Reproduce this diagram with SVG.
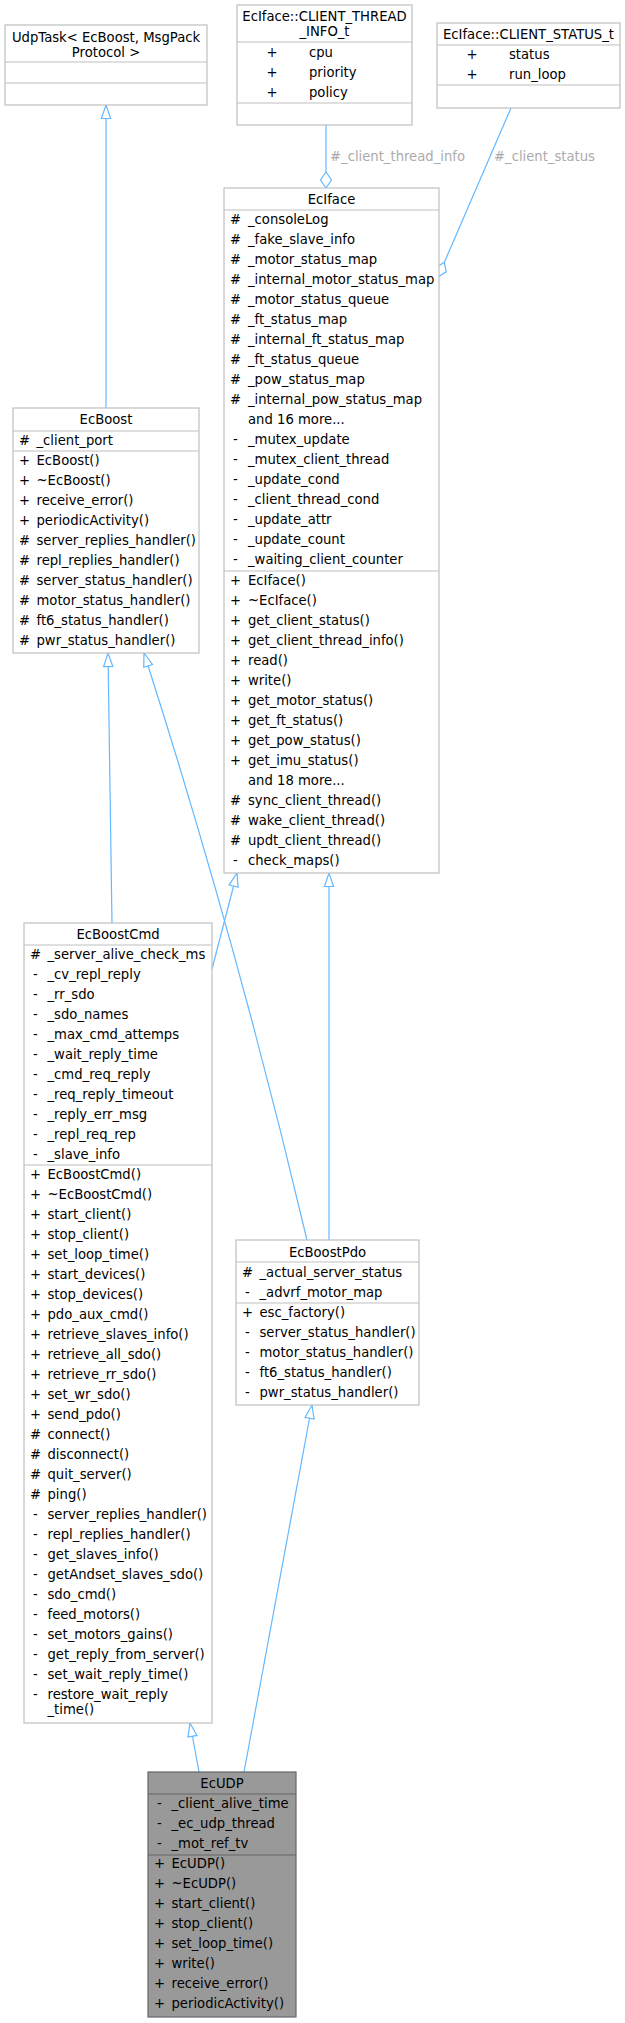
<svg xmlns="http://www.w3.org/2000/svg" width="625" height="2023" viewBox="0 0 625 2023">
<style>
.box{fill:#ffffff;stroke:#bfbfbf;stroke-width:1.2}
.sep{stroke:#bfbfbf;stroke-width:1.2}
.boxd{fill:#999999;stroke:#666666;stroke-width:1.2}
.sepd{stroke:#666666;stroke-width:1.2}
text{font-family:"DejaVu Sans","Liberation Sans",sans-serif;font-size:13.2px;fill:#000000}
.c{text-anchor:middle}
.edge{fill:none;stroke:#63b8ff;stroke-width:1.2}
text.lbl{fill:#ababab}
</style>
<defs>
<marker id="inh" markerUnits="userSpaceOnUse" viewBox="0 0 14 10" refX="14" refY="5" markerWidth="14" markerHeight="10" orient="auto" overflow="visible">
<path d="M0.5,0.4 L14,5 L0.5,9.6 Z" fill="#ffffff" stroke="#63b8ff" stroke-width="1.2"/>
</marker>
<marker id="agg" markerUnits="userSpaceOnUse" viewBox="0 0 16 11" refX="16" refY="5.5" markerWidth="16" markerHeight="11" orient="auto" overflow="visible">
<path d="M0,5.5 L8,0 L16,5.5 L8,11 Z" fill="#ffffff" stroke="#63b8ff" stroke-width="1.2"/>
</marker>
</defs>
<rect width="625" height="2023" fill="#ffffff"/>

<g id="connectors">
<path class="edge" d="M106,408 L106,105" marker-end="url(#inh)"/>
<path class="edge" d="M112,923 L108,653" marker-end="url(#inh)"/>
<path class="edge" d="M307,1240 Q237,943 144,653" marker-end="url(#inh)"/>
<path class="edge" d="M212,969 L237,873" marker-end="url(#inh)"/>
<path class="edge" d="M329,1240 L329,873" marker-end="url(#inh)"/>
<path class="edge" d="M199,1772 L190,1723" marker-end="url(#inh)"/>
<path class="edge" d="M244,1772 L312,1405" marker-end="url(#inh)"/>
<path class="edge" d="M326,125 L326,188" marker-end="url(#agg)"/>
<path class="edge" d="M511,108 L438,277" marker-end="url(#agg)"/>
<text class="lbl" x="330" y="160.5">#_client_thread_info</text>
<text class="lbl" x="494" y="160.5">#_client_status</text>
</g>

<g id="UdpTask">
<rect class="box" x="5" y="25" width="202" height="80"/>
<line class="sep" x1="5" y1="62" x2="207" y2="62"/>
<line class="sep" x1="5" y1="83" x2="207" y2="83"/>
<text class="c" x="106" y="41.5">UdpTask&lt; EcBoost, MsgPack</text>
<text class="c" x="106" y="56.5">Protocol &gt;</text>
</g>

<g id="CLIENT_THREAD_INFO_t">
<rect class="box" x="237" y="5" width="175" height="120"/>
<line class="sep" x1="237" y1="42" x2="412" y2="42"/>
<line class="sep" x1="237" y1="103" x2="412" y2="103"/>
<text class="c" x="324.5" y="21">EcIface::CLIENT_THREAD</text>
<text class="c" x="324.5" y="36">_INFO_t</text>
<text class="c" x="272" y="56.5">+</text><text x="309" y="56.5">cpu</text>
<text class="c" x="272" y="76.5">+</text><text x="309" y="76.5">priority</text>
<text class="c" x="272" y="96.5">+</text><text x="309" y="96.5">policy</text>
</g>

<g id="CLIENT_STATUS_t">
<rect class="box" x="437" y="23" width="183" height="85"/>
<line class="sep" x1="437" y1="45" x2="620" y2="45"/>
<line class="sep" x1="437" y1="85" x2="620" y2="85"/>
<text class="c" x="528.5" y="38.5">EcIface::CLIENT_STATUS_t</text>
<text class="c" x="472" y="58.5">+</text><text x="509" y="58.5">status</text>
<text class="c" x="472" y="78.5">+</text><text x="509" y="78.5">run_loop</text>
</g>

<g id="EcIface">
<rect class="box" x="224" y="188" width="215" height="685"/>
<line class="sep" x1="224" y1="210" x2="439" y2="210"/>
<line class="sep" x1="224" y1="571" x2="439" y2="571"/>
<text class="c" x="331.5" y="203.5">EcIface</text>
<text class="c" x="235.5" y="224">#</text><text x="248" y="224">_consoleLog</text>
<text class="c" x="235.5" y="244">#</text><text x="248" y="244">_fake_slave_info</text>
<text class="c" x="235.5" y="264">#</text><text x="248" y="264">_motor_status_map</text>
<text class="c" x="235.5" y="284">#</text><text x="248" y="284">_internal_motor_status_map</text>
<text class="c" x="235.5" y="304">#</text><text x="248" y="304">_motor_status_queue</text>
<text class="c" x="235.5" y="324">#</text><text x="248" y="324">_ft_status_map</text>
<text class="c" x="235.5" y="344">#</text><text x="248" y="344">_internal_ft_status_map</text>
<text class="c" x="235.5" y="364">#</text><text x="248" y="364">_ft_status_queue</text>
<text class="c" x="235.5" y="384">#</text><text x="248" y="384">_pow_status_map</text>
<text class="c" x="235.5" y="404">#</text><text x="248" y="404">_internal_pow_status_map</text>
<text x="248" y="424">and 16 more...</text>
<text class="c" x="235.5" y="444">-</text><text x="248" y="444">_mutex_update</text>
<text class="c" x="235.5" y="464">-</text><text x="248" y="464">_mutex_client_thread</text>
<text class="c" x="235.5" y="484">-</text><text x="248" y="484">_update_cond</text>
<text class="c" x="235.5" y="504">-</text><text x="248" y="504">_client_thread_cond</text>
<text class="c" x="235.5" y="524">-</text><text x="248" y="524">_update_attr</text>
<text class="c" x="235.5" y="544">-</text><text x="248" y="544">_update_count</text>
<text class="c" x="235.5" y="564">-</text><text x="248" y="564">_waiting_client_counter</text>
<text class="c" x="235.5" y="584.5">+</text><text x="248" y="584.5">EcIface()</text>
<text class="c" x="235.5" y="604.5">+</text><text x="248" y="604.5">~EcIface()</text>
<text class="c" x="235.5" y="624.5">+</text><text x="248" y="624.5">get_client_status()</text>
<text class="c" x="235.5" y="644.5">+</text><text x="248" y="644.5">get_client_thread_info()</text>
<text class="c" x="235.5" y="664.5">+</text><text x="248" y="664.5">read()</text>
<text class="c" x="235.5" y="684.5">+</text><text x="248" y="684.5">write()</text>
<text class="c" x="235.5" y="704.5">+</text><text x="248" y="704.5">get_motor_status()</text>
<text class="c" x="235.5" y="724.5">+</text><text x="248" y="724.5">get_ft_status()</text>
<text class="c" x="235.5" y="744.5">+</text><text x="248" y="744.5">get_pow_status()</text>
<text class="c" x="235.5" y="764.5">+</text><text x="248" y="764.5">get_imu_status()</text>
<text x="248" y="784.5">and 18 more...</text>
<text class="c" x="235.5" y="804.5">#</text><text x="248" y="804.5">sync_client_thread()</text>
<text class="c" x="235.5" y="824.5">#</text><text x="248" y="824.5">wake_client_thread()</text>
<text class="c" x="235.5" y="844.5">#</text><text x="248" y="844.5">updt_client_thread()</text>
<text class="c" x="235.5" y="864.5">-</text><text x="248" y="864.5">check_maps()</text>
</g>

<g id="EcBoost">
<rect class="box" x="13" y="408" width="186" height="245"/>
<line class="sep" x1="13" y1="431" x2="199" y2="431"/>
<line class="sep" x1="13" y1="451" x2="199" y2="451"/>
<text class="c" x="106" y="423.5">EcBoost</text>
<text class="c" x="24.5" y="444.5">#</text><text x="36.5" y="444.5">_client_port</text>
<text class="c" x="24.5" y="464.5">+</text><text x="36.5" y="464.5">EcBoost()</text>
<text class="c" x="24.5" y="484.5">+</text><text x="36.5" y="484.5">~EcBoost()</text>
<text class="c" x="24.5" y="504.5">+</text><text x="36.5" y="504.5">receive_error()</text>
<text class="c" x="24.5" y="524.5">+</text><text x="36.5" y="524.5">periodicActivity()</text>
<text class="c" x="24.5" y="544.5">#</text><text x="36.5" y="544.5">server_replies_handler()</text>
<text class="c" x="24.5" y="564.5">#</text><text x="36.5" y="564.5">repl_replies_handler()</text>
<text class="c" x="24.5" y="584.5">#</text><text x="36.5" y="584.5">server_status_handler()</text>
<text class="c" x="24.5" y="604.5">#</text><text x="36.5" y="604.5">motor_status_handler()</text>
<text class="c" x="24.5" y="624.5">#</text><text x="36.5" y="624.5">ft6_status_handler()</text>
<text class="c" x="24.5" y="644.5">#</text><text x="36.5" y="644.5">pwr_status_handler()</text>
</g>

<g id="EcBoostCmd">
<rect class="box" x="24" y="923" width="188" height="800"/>
<line class="sep" x1="24" y1="945" x2="212" y2="945"/>
<line class="sep" x1="24" y1="1165" x2="212" y2="1165"/>
<text class="c" x="118" y="938.5">EcBoostCmd</text>
<text class="c" x="35.5" y="958.5">#</text><text x="47.5" y="958.5">_server_alive_check_ms</text>
<text class="c" x="35.5" y="978.5">-</text><text x="47.5" y="978.5">_cv_repl_reply</text>
<text class="c" x="35.5" y="998.5">-</text><text x="47.5" y="998.5">_rr_sdo</text>
<text class="c" x="35.5" y="1018.5">-</text><text x="47.5" y="1018.5">_sdo_names</text>
<text class="c" x="35.5" y="1038.5">-</text><text x="47.5" y="1038.5">_max_cmd_attemps</text>
<text class="c" x="35.5" y="1058.5">-</text><text x="47.5" y="1058.5">_wait_reply_time</text>
<text class="c" x="35.5" y="1078.5">-</text><text x="47.5" y="1078.5">_cmd_req_reply</text>
<text class="c" x="35.5" y="1098.5">-</text><text x="47.5" y="1098.5">_req_reply_timeout</text>
<text class="c" x="35.5" y="1118.5">-</text><text x="47.5" y="1118.5">_reply_err_msg</text>
<text class="c" x="35.5" y="1138.5">-</text><text x="47.5" y="1138.5">_repl_req_rep</text>
<text class="c" x="35.5" y="1158.5">-</text><text x="47.5" y="1158.5">_slave_info</text>
<text class="c" x="35.5" y="1178.5">+</text><text x="47.5" y="1178.5">EcBoostCmd()</text>
<text class="c" x="35.5" y="1198.5">+</text><text x="47.5" y="1198.5">~EcBoostCmd()</text>
<text class="c" x="35.5" y="1218.5">+</text><text x="47.5" y="1218.5">start_client()</text>
<text class="c" x="35.5" y="1238.5">+</text><text x="47.5" y="1238.5">stop_client()</text>
<text class="c" x="35.5" y="1258.5">+</text><text x="47.5" y="1258.5">set_loop_time()</text>
<text class="c" x="35.5" y="1278.5">+</text><text x="47.5" y="1278.5">start_devices()</text>
<text class="c" x="35.5" y="1298.5">+</text><text x="47.5" y="1298.5">stop_devices()</text>
<text class="c" x="35.5" y="1318.5">+</text><text x="47.5" y="1318.5">pdo_aux_cmd()</text>
<text class="c" x="35.5" y="1338.5">+</text><text x="47.5" y="1338.5">retrieve_slaves_info()</text>
<text class="c" x="35.5" y="1358.5">+</text><text x="47.5" y="1358.5">retrieve_all_sdo()</text>
<text class="c" x="35.5" y="1378.5">+</text><text x="47.5" y="1378.5">retrieve_rr_sdo()</text>
<text class="c" x="35.5" y="1398.5">+</text><text x="47.5" y="1398.5">set_wr_sdo()</text>
<text class="c" x="35.5" y="1418.5">+</text><text x="47.5" y="1418.5">send_pdo()</text>
<text class="c" x="35.5" y="1438.5">#</text><text x="47.5" y="1438.5">connect()</text>
<text class="c" x="35.5" y="1458.5">#</text><text x="47.5" y="1458.5">disconnect()</text>
<text class="c" x="35.5" y="1478.5">#</text><text x="47.5" y="1478.5">quit_server()</text>
<text class="c" x="35.5" y="1498.5">#</text><text x="47.5" y="1498.5">ping()</text>
<text class="c" x="35.5" y="1518.5">-</text><text x="47.5" y="1518.5">server_replies_handler()</text>
<text class="c" x="35.5" y="1538.5">-</text><text x="47.5" y="1538.5">repl_replies_handler()</text>
<text class="c" x="35.5" y="1558.5">-</text><text x="47.5" y="1558.5">get_slaves_info()</text>
<text class="c" x="35.5" y="1578.5">-</text><text x="47.5" y="1578.5">getAndset_slaves_sdo()</text>
<text class="c" x="35.5" y="1598.5">-</text><text x="47.5" y="1598.5">sdo_cmd()</text>
<text class="c" x="35.5" y="1618.5">-</text><text x="47.5" y="1618.5">feed_motors()</text>
<text class="c" x="35.5" y="1638.5">-</text><text x="47.5" y="1638.5">set_motors_gains()</text>
<text class="c" x="35.5" y="1658.5">-</text><text x="47.5" y="1658.5">get_reply_from_server()</text>
<text class="c" x="35.5" y="1678.5">-</text><text x="47.5" y="1678.5">set_wait_reply_time()</text>
<text class="c" x="35.5" y="1698.5">-</text><text x="47.5" y="1698.5">restore_wait_reply</text>
<text x="47.5" y="1713.5">_time()</text>
</g>

<g id="EcBoostPdo">
<rect class="box" x="236" y="1240" width="183" height="165"/>
<line class="sep" x1="236" y1="1262" x2="419" y2="1262"/>
<line class="sep" x1="236" y1="1303" x2="419" y2="1303"/>
<text class="c" x="327.5" y="1256.5">EcBoostPdo</text>
<text class="c" x="247.5" y="1276.5">#</text><text x="259.5" y="1276.5">_actual_server_status</text>
<text class="c" x="247.5" y="1296.5">-</text><text x="259.5" y="1296.5">_advrf_motor_map</text>
<text class="c" x="247.5" y="1316.5">+</text><text x="259.5" y="1316.5">esc_factory()</text>
<text class="c" x="247.5" y="1336.5">-</text><text x="259.5" y="1336.5">server_status_handler()</text>
<text class="c" x="247.5" y="1356.5">-</text><text x="259.5" y="1356.5">motor_status_handler()</text>
<text class="c" x="247.5" y="1376.5">-</text><text x="259.5" y="1376.5">ft6_status_handler()</text>
<text class="c" x="247.5" y="1396.5">-</text><text x="259.5" y="1396.5">pwr_status_handler()</text>
</g>

<g id="EcUDP">
<rect class="boxd" x="148" y="1772" width="148" height="245"/>
<line class="sepd" x1="148" y1="1794" x2="296" y2="1794"/>
<line class="sepd" x1="148" y1="1855" x2="296" y2="1855"/>
<text class="c" x="222" y="1787.5">EcUDP</text>
<text class="c" x="159.5" y="1807.5">-</text><text x="171.5" y="1807.5">_client_alive_time</text>
<text class="c" x="159.5" y="1827.5">-</text><text x="171.5" y="1827.5">_ec_udp_thread</text>
<text class="c" x="159.5" y="1847.5">-</text><text x="171.5" y="1847.5">_mot_ref_tv</text>
<text class="c" x="159.5" y="1868">+</text><text x="171.5" y="1868">EcUDP()</text>
<text class="c" x="159.5" y="1888">+</text><text x="171.5" y="1888">~EcUDP()</text>
<text class="c" x="159.5" y="1908">+</text><text x="171.5" y="1908">start_client()</text>
<text class="c" x="159.5" y="1928">+</text><text x="171.5" y="1928">stop_client()</text>
<text class="c" x="159.5" y="1948">+</text><text x="171.5" y="1948">set_loop_time()</text>
<text class="c" x="159.5" y="1968">+</text><text x="171.5" y="1968">write()</text>
<text class="c" x="159.5" y="1988">+</text><text x="171.5" y="1988">receive_error()</text>
<text class="c" x="159.5" y="2008">+</text><text x="171.5" y="2008">periodicActivity()</text>
</g>
</svg>
